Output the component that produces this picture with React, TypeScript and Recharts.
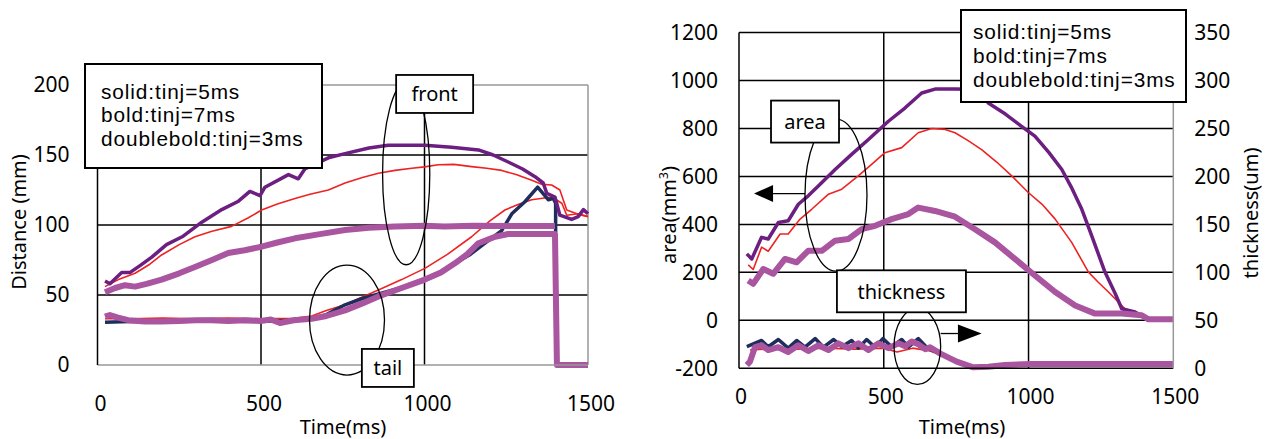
import { LineChart, Line, XAxis, YAxis, CartesianGrid, ReferenceLine, ReferenceDot } from 'recharts'

type Pt = [number, number]

const timeTicks = [0, 500, 1000, 1500]
const distanceTicks = [0, 50, 100, 150, 200]
const areaTicks = [-200, 0, 200, 400, 600, 800, 1000, 1200]
const thicknessTicks = [0, 50, 100, 150, 200, 250, 300, 350]
const legendLines = ['solid:tinj=5ms', 'bold:tinj=7ms', 'doublebold:tinj=3ms']

// left panel: spray front / tail distance (mm) vs time (ms)
const front5: Pt[] = [
  [23, 56], [64, 61], [115, 65.5], [160, 72], [196, 78.6], [250, 86], [298, 91.6], [350, 95.5],
  [410, 99], [460, 105], [502, 110.7], [550, 115], [604, 119], [650, 122], [706, 125], [757, 130],
  [810, 134], [859, 137], [910, 139], [961, 140.5], [1000, 141.5], [1042, 143], [1090, 143.3],
  [1144, 141.7], [1190, 140.5], [1236, 139], [1280, 136], [1328, 132], [1360, 129], [1389, 128.6],
  [1414, 125], [1435, 110.7], [1470, 107.6], [1500, 106],
]
const tail5: Pt[] = [
  [23, 33], [100, 33], [200, 33.5], [300, 33], [400, 33.5], [500, 33], [600, 33.3], [655, 35],
  [700, 39], [757, 43], [810, 48.5], [859, 53.6], [930, 61], [1001, 69], [1070, 79], [1144, 91.6],
  [1200, 103], [1246, 110.7], [1290, 115], [1328, 118], [1389, 120], [1420, 115.5], [1435, 107],
  [1470, 108], [1500, 106],
]
const front7: Pt[] = [
  [23, 60], [38, 58], [74, 66], [99, 66], [130, 71], [166, 77], [211, 86], [262, 92], [319, 102],
  [380, 111], [431, 117], [466, 124], [497, 121], [512, 127], [584, 136], [614, 133], [634, 140],
  [706, 148], [757, 151], [830, 155], [889, 157], [1001, 157], [1083, 155.5], [1165, 153.6],
  [1210, 150], [1256, 145], [1300, 140], [1338, 134.5], [1363, 130], [1374, 122.6], [1399, 120],
  [1414, 107], [1450, 104], [1470, 106], [1486, 111], [1500, 108],
]
const tail7: Pt[] = [
  [23, 30.5], [100, 31], [200, 31], [300, 31.5], [400, 31.5], [500, 31], [600, 32], [655, 33],
  [700, 36], [757, 43], [810, 47.5], [879, 52], [940, 56], [1001, 60.7], [1050, 66], [1093, 72.6],
  [1140, 79], [1185, 87], [1236, 96], [1267, 108], [1307, 116.6], [1346, 127], [1368, 121],
  [1379, 118], [1394, 119], [1401, 115.5], [1401, 95],
]
const front3: Pt[] = [
  [23, 52], [54, 55], [84, 57], [115, 56], [150, 58], [196, 61], [250, 65.5], [298, 70], [350, 75],
  [400, 80], [450, 82], [502, 84.5], [550, 87.5], [604, 90.5], [680, 93.5], [757, 96.4], [830, 98],
  [910, 99], [1000, 99.5], [1061, 99], [1150, 99.5], [1250, 99.3], [1399, 99.3],
]
const tail3: Pt[] = [
  [23, 34.5], [38, 35.7], [60, 34], [94, 32], [145, 31], [196, 31], [250, 31.5], [300, 32], [349, 32],
  [400, 31.5], [451, 32], [500, 31.5], [530, 32.5], [558, 30], [600, 32], [655, 33], [700, 35],
  [757, 39], [810, 44], [859, 49], [930, 55], [1001, 61], [1050, 66], [1093, 72.6], [1130, 79],
  [1165, 87], [1216, 91.6], [1256, 93.6], [1330, 93.6], [1399, 93.6], [1405, 0], [1500, 0],
]

// right panel: spray area (mm3) and thickness (um) vs time (ms)
const area5: Pt[] = [
  [32, 231], [49, 212], [78, 305], [101, 288], [142, 360], [170, 360], [211, 422], [251, 463],
  [309, 526], [355, 547], [412, 602], [458, 650], [504, 699], [562, 720], [619, 782], [666, 800],
  [712, 796], [746, 782], [790, 750], [838, 712], [890, 660], [942, 602], [999, 533], [1050, 480],
  [1092, 422], [1149, 325], [1207, 201], [1240, 160], [1276, 118], [1333, 48.5], [1391, 21],
  [1414, 7], [1500, 5],
]
const area7: Pt[] = [
  [27, 277], [44, 256], [78, 346], [101, 339], [136, 408], [170, 415], [205, 484], [240, 520],
  [274, 560], [332, 629], [389, 692], [447, 754], [516, 830], [573, 885], [631, 948], [677, 964],
  [746, 964], [800, 963], [840, 945], [861, 906], [920, 860], [976, 809], [1022, 768], [1070, 700],
  [1115, 629], [1150, 550], [1184, 463], [1218, 353], [1264, 201], [1300, 110], [1322, 48.5],
  [1368, 35], [1408, 7], [1500, 5],
]
const area3: Pt[] = [
  [32, 166], [49, 152], [84, 214], [118, 194], [159, 256], [199, 242], [239, 290], [286, 290],
  [332, 332], [378, 339], [424, 380], [470, 394], [527, 422], [585, 443], [619, 470], [677, 456],
  [746, 432], [815, 380], [884, 325], [953, 256], [1022, 187], [1092, 118], [1161, 62], [1230, 28],
  [1322, 28], [1391, 21], [1414, 4], [1500, 4],
]
const thick5: Pt[] = [
  [38, 19], [100, 20], [200, 20], [300, 21], [400, 20], [500, 21], [546, 17], [600, 21], [660, 18],
  [700, 14], [760, 6], [820, 1], [1000, 4], [1500, 4],
]
const thick7: Pt[] = [
  [27, 22.5], [78, 29], [101, 22.5], [136, 30], [170, 21], [199, 29], [228, 22], [263, 31],
  [292, 22], [327, 30], [355, 22.5], [389, 29], [412, 21], [441, 30], [470, 22], [497, 31],
  [527, 22.5], [562, 30], [585, 22], [619, 31], [648, 22], [677, 17],
]
const thick3: Pt[] = [
  [27, 3.5], [38, 7], [55, 22], [78, 24], [101, 19], [136, 22], [170, 17], [205, 24], [239, 18],
  [274, 24], [309, 19], [343, 26], [378, 21], [412, 26], [447, 19], [481, 26], [516, 21], [551, 26],
  [574, 23], [597, 28], [619, 25], [643, 20], [660, 22], [694, 15.6], [752, 7], [809, 1], [861, 1.7],
  [918, 3.4], [1011, 4.5], [1500, 4.5],
]

const FONT = "'Noto Sans', sans-serif"
const LEGEND_FONT = "'Liberation Sans', Arial, sans-serif"
const RED = '#ee2222'
const PURPLE = '#6c1f80'
const PINK = '#a9559f'
const NAVY = '#1f2d5c'

const rows = (pts: Pt[]) => pts.map(([t, v]) => ({ t, v }))
const tickStyle = { fill: '#000', fontSize: 21, fontFamily: FONT }

const ellipse = (rx: number, ry: number) => (p: any) => (
  <ellipse cx={p.cx} cy={p.cy} rx={rx} ry={ry} fill="none" stroke="#000" strokeWidth={1.3} />
)

const tag = (text: string, w: number, h: number) => (p: any) => (
  <g>
    <rect x={p.cx - w / 2} y={p.cy - h / 2} width={w} height={h} fill="#fff" stroke="#000" strokeWidth={1.8} />
    <text x={p.cx} y={p.cy} textAnchor="middle" dominantBaseline="central" fontSize={20} fontFamily={FONT} fill="#000">
      {text}
    </text>
  </g>
)

const arrow = (dir: 1 | -1, head: number, len: number, half: number) => (p: any) => (
  <g>
    <line x1={p.cx - dir * head} y1={p.cy} x2={p.cx - dir * len} y2={p.cy} stroke="#000" strokeWidth={1.3} />
    <polygon
      points={`${p.cx},${p.cy} ${p.cx - dir * head},${p.cy - half} ${p.cx - dir * head},${p.cy + half}`}
      fill="#000"
    />
  </g>
)

function series(pts: Pt[], color: string, width: number, yAxisId?: string) {
  return (
    <Line
      data={rows(pts)}
      dataKey="v"
      type="linear"
      stroke={color}
      strokeWidth={width}
      strokeLinejoin="round"
      dot={false}
      activeDot={false}
      isAnimationActive={false}
      {...(yAxisId ? { yAxisId } : {})}
    />
  )
}

function Legend({ left, top, width, height, padTop, padLeft, lh }: any) {
  return (
    <div
      style={{
        position: 'absolute', left, top, width, height, boxSizing: 'border-box',
        border: '2px solid #000', background: '#fff', paddingTop: padTop, paddingLeft: padLeft,
        fontFamily: LEGEND_FONT, fontSize: 20.8, letterSpacing: 0.9, lineHeight: `${lh}px`,
        color: '#000', whiteSpace: 'nowrap',
      }}
    >
      {legendLines.map((l, i) => (
        <span key={l}>
          {i > 0 && <br />}
          {l}
        </span>
      ))}
    </div>
  )
}

function Title({ text, x, y, rotate }: { text: React.ReactNode; x: number; y: number; rotate?: boolean }) {
  return (
    <div
      style={{
        position: 'absolute', left: x, top: y, whiteSpace: 'nowrap', fontFamily: FONT, fontSize: 20,
        lineHeight: '24px', color: '#000',
        transform: `translate(-50%, -50%)${rotate ? ' rotate(-90deg)' : ''}`,
      }}
    >
      {text}
    </div>
  )
}

function DistanceChart() {
  return (
    <div style={{ position: 'absolute', left: 0, top: 0 }}>
      <LineChart width={620} height={439} margin={{ top: 85, right: 32, bottom: 0, left: 0 }}>
        <CartesianGrid stroke="#000" strokeWidth={1.5} horizontalValues={[50, 100, 150]} verticalValues={[500, 1000]} />
        <XAxis
          type="number" dataKey="t" domain={[0, 1500]} ticks={timeTicks} interval={0} height={74}
          axisLine={{ stroke: '#999', strokeWidth: 1.5 }} tickLine={false} tickSize={0} tickMargin={31}
          tick={{ ...tickStyle, dx: 3 }}
        />
        <YAxis
          type="number" domain={[0, 200]} ticks={distanceTicks} interval={0} width={97.5}
          axisLine={{ stroke: '#000', strokeWidth: 1.5 }} tickLine={false} tickSize={0} tickMargin={28}
          tick={tickStyle}
        />
        <ReferenceLine y={200} stroke="#999" strokeWidth={1.5} />
        <ReferenceLine x={1500} stroke="#999" strokeWidth={1.5} />
        {series(front5, RED, 1.6)}
        {series(tail5, RED, 1.6)}
        {series(tail7, NAVY, 3.5)}
        {series(front7, PURPLE, 3.5)}
        {series(tail3, PINK, 6)}
        {series(front3, PINK, 6)}
        <ReferenceDot x={944} y={136.6} ifOverflow="visible" shape={ellipse(23.6, 91)} />
        <ReferenceDot x={1031} y={193.6} ifOverflow="visible" shape={tag('front', 77, 38)} />
        <ReferenceDot x={763} y={32.1} ifOverflow="visible" shape={ellipse(37.5, 55)} />
        <ReferenceDot x={888} y={-2.1} ifOverflow="visible" shape={tag('tail', 52, 38)} />
      </LineChart>
      <Legend left={84} top={63} width={239} height={106} padTop={15} padLeft={15} lh={23.3} />
      <Title text="Time(ms)" x={343} y={427} />
      <Title text="Distance (mm)" x={19} y={222} rotate />
    </div>
  )
}

function AreaChartPanel() {
  return (
    <div style={{ position: 'absolute', left: 0, top: 0 }}>
      <div style={{ position: 'absolute', left: 640, top: 0 }}>
        <LineChart width={626} height={439} margin={{ top: 32.5, right: 0, bottom: 0, left: 0 }}>
          <CartesianGrid
            yAxisId="left" stroke="#000" strokeWidth={1.5}
            horizontalValues={[0, 200, 400, 600, 800, 1000, 1200]} verticalValues={[500, 1000]}
          />
          <XAxis
            type="number" dataKey="t" domain={[0, 1500]} ticks={timeTicks} interval={0} height={70.7}
            axisLine={{ stroke: '#000', strokeWidth: 1.5 }} tickLine={false} tickSize={0} tickMargin={21}
            tick={{ ...tickStyle, dx: 2 }}
          />
          <YAxis
            yAxisId="left" type="number" domain={[-200, 1200]} ticks={areaTicks} interval={0} width={99}
            axisLine={{ stroke: '#000', strokeWidth: 1.5 }} tickLine={false} tickSize={0} tickMargin={21}
            tick={tickStyle}
          />
          <YAxis
            yAxisId="right" orientation="right" type="number" domain={[0, 350]} ticks={thicknessTicks}
            interval={0} width={92.7} axisLine={{ stroke: '#999', strokeWidth: 1.5 }} tickLine={false}
            tickSize={0} tickMargin={21} tick={{ ...tickStyle, textAnchor: 'start' }}
          />
          {series(area5, RED, 1.6, 'left')}
          {series(thick5, RED, 1.6, 'right')}
          {series(thick7, NAVY, 3.5, 'right')}
          {series(area7, PURPLE, 3.5, 'left')}
          {series(area3, PINK, 6, 'left')}
          {series(thick3, PINK, 6, 'right')}
          <ReferenceDot yAxisId="left" x={335} y={522} ifOverflow="visible" shape={ellipse(31, 76)} />
          <ReferenceDot yAxisId="left" x={228} y={828.6} ifOverflow="visible" shape={tag('area', 68, 42)} />
          <ReferenceDot yAxisId="left" x={52} y={528.6} ifOverflow="visible" shape={arrow(-1, 19, 51, 8.5)} />
          <ReferenceDot yAxisId="left" x={616} y={-109} ifOverflow="visible" shape={ellipse(23.3, 38)} />
          <ReferenceDot yAxisId="left" x={561} y={121} ifOverflow="visible" shape={tag('thickness', 129, 42)} />
          <ReferenceDot yAxisId="left" x={838} y={-55} ifOverflow="visible" shape={arrow(1, 23.7, 41, 9)} />
        </LineChart>
      </div>
      <Legend left={960} top={9} width={227} height={94} padTop={9} padLeft={11} lh={24} />
      <Title text="Time(ms)" x={962} y={427} />
      <Title text={<span>area(mm<sup style={{ fontSize: 12, verticalAlign: 'super', lineHeight: 0 }}>3</sup>)</span>} x={669} y={215} rotate />
      <Title text="thickness(um)" x={1251} y={213} rotate />
    </div>
  )
}

export default function App() {
  return (
    <div style={{ position: 'absolute', left: 0, top: 0, width: 1266, height: 439, background: '#fff' }}>
      <DistanceChart />
      <AreaChartPanel />
    </div>
  )
}
